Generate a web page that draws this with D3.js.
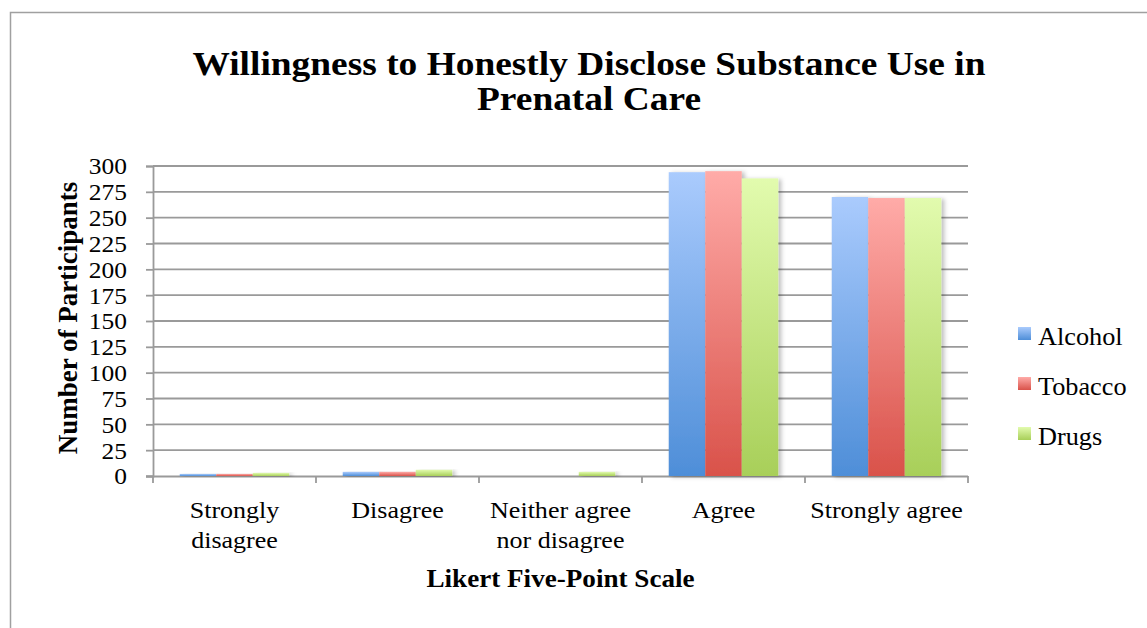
<!DOCTYPE html>
<html>
<head>
<meta charset="utf-8">
<script src="https://cdn.jsdelivr.net/npm/d3@7"></script>
<style>
  html, body { margin: 0; padding: 0; background: #fff; }
  svg { display: block; }
  text { font-family: "Liberation Serif", "Times New Roman", Times, serif; fill: #000; }
</style>
</head>
<body>
<svg id="chart" width="1147" height="628"></svg>
<script>
// ---- data ----
const categories = ["Strongly disagree", "Disagree", "Neither agree nor disagree", "Agree", "Strongly agree"];
const categoryLines = [["Strongly", "disagree"], ["Disagree"], ["Neither agree", "nor disagree"], ["Agree"], ["Strongly agree"]];
const seriesNames = ["Alcohol", "Tobacco", "Drugs"];
const alcohol = [2, 4, 0, 294, 270];
const tobacco = [2, 4, 0, 295, 269];
const drugs = [3, 6, 4, 288, 269];
const yTicks = [0, 25, 50, 75, 100, 125, 150, 175, 200, 225, 250, 275, 300];
const titleLines = ["Willingness to Honestly Disclose Substance Use in", "Prenatal Care"];
const xTitle = "Likert Five-Point Scale";
const yTitle = "Number of Participants";

const seriesValues = [alcohol, tobacco, drugs];
const colors = [
  { top: "#aacbfd", bottom: "#4e8ed8" },
  { top: "#ffaba8", bottom: "#d9524a" },
  { top: "#e2fbae", bottom: "#a8cf59" }
];
const SX = 1.085; // horizontal stretch of the reference's text

const svg = d3.select("#chart");
const defs = svg.append("defs");
colors.forEach((c, i) => {
  const g = defs.append("linearGradient").attr("id", "grad" + i)
    .attr("x1", 0).attr("y1", 0).attr("x2", 0).attr("y2", 1);
  g.append("stop").attr("offset", "0%").attr("stop-color", c.top);
  g.append("stop").attr("offset", "100%").attr("stop-color", c.bottom);
});
const f = defs.append("filter").attr("id", "shadow").attr("x", "-20%").attr("y", "-5%").attr("width", "140%").attr("height", "110%");
f.append("feDropShadow").attr("dx", 3).attr("dy", 1).attr("stdDeviation", 2)
  .attr("flood-color", "#000").attr("flood-opacity", 0.25);

// frame
svg.append("rect").attr("x", 10.5).attr("y", 12.5).attr("width", 1150).attr("height", 640)
  .attr("fill", "#fff").attr("stroke", "#a0a0a0").attr("stroke-width", 1.5);

const plot = { left: 153, right: 968, top: 166, bottom: 476 };

const x0 = d3.scaleBand().domain(categories).range([plot.left, plot.right])
  .paddingInner(0.328).paddingOuter(0.164);
const x1 = d3.scaleBand().domain(seriesNames).range([0, x0.bandwidth()]).padding(0);
const y = d3.scaleLinear().domain([0, 300]).range([plot.bottom, plot.top]);

// gridlines
svg.append("g").selectAll("line").data(yTicks.filter(d => d > 0)).join("line")
  .attr("x1", plot.left).attr("x2", plot.right)
  .attr("y1", d => y(d)).attr("y2", d => y(d))
  .attr("stroke", "#9a9a9a").attr("stroke-width", 1.8);

// y axis
const yAxis = svg.append("g").attr("transform", `translate(${plot.left},0)`)
  .call(d3.axisLeft(y).tickValues(yTicks).tickSize(7).tickPadding(19).tickFormat(d3.format("d")));
yAxis.attr("font-family", null).attr("font-size", null);
yAxis.select(".domain").attr("stroke", "#9a9a9a").attr("stroke-width", 1.8);
yAxis.selectAll(".tick line").attr("stroke", "#9a9a9a").attr("stroke-width", 1.8);
const tickSX = 1.06;
yAxis.selectAll(".tick text").attr("font-size", 24)
  .attr("dy", "0.33em")
  .attr("x", function () { return +d3.select(this).attr("x") / tickSX; })
  .attr("transform", `scale(${tickSX},1)`);

// x axis baseline and category ticks
const xAxis = svg.append("g").attr("transform", `translate(0,${plot.bottom})`)
  .call(d3.axisBottom(x0).tickSize(0).tickFormat(""));
xAxis.select(".domain").remove();
svg.append("line").attr("x1", plot.left - 7).attr("x2", plot.right)
  .attr("y1", plot.bottom + 0.5).attr("y2", plot.bottom + 0.5)
  .attr("stroke", "#9a9a9a").attr("stroke-width", 1.8);
const step = x0.step();
const boundaries = d3.range(categories.length + 1).map(i => plot.left + i * step);
svg.append("g").selectAll("line").data(boundaries).join("line")
  .attr("x1", d => d).attr("x2", d => d)
  .attr("y1", plot.bottom).attr("y2", plot.bottom + 7)
  .attr("stroke", "#9a9a9a").attr("stroke-width", 1.8);

// bars
const groups = svg.append("g").selectAll("g").data(categories).join("g")
  .attr("transform", d => `translate(${x0(d)},0)`);
groups.selectAll("rect")
  .data((d, ci) => seriesNames.map((s, si) => ({ s, si, v: seriesValues[si][ci] })))
  .join("rect")
  .attr("x", d => x1(d.s))
  .attr("width", x1.bandwidth())
  .attr("y", d => y(d.v))
  .attr("height", d => y(0) - y(d.v))
  .attr("fill", d => `url(#grad${d.si})`)
  .attr("filter", "url(#shadow)");

// category labels
categories.forEach((c, i) => {
  const cx = x0(c) + x0.bandwidth() / 2;
  const t = svg.append("text").attr("text-anchor", "middle").attr("font-size", 24)
    .attr("transform", `translate(${cx},518) scale(${SX},1)`);
  categoryLines[i].forEach((line, li) => {
    t.append("tspan").attr("x", 0).attr("y", li * 30).text(line);
  });
});

// axis titles
svg.append("text").attr("text-anchor", "middle").attr("font-size", 25).attr("font-weight", "bold")
  .attr("transform", `translate(${(plot.left + plot.right) / 2},587) scale(${SX},1)`).text(xTitle);
svg.append("text").attr("text-anchor", "middle").attr("font-size", 27).attr("font-weight", "bold")
  .attr("transform", `translate(77,318) rotate(-90)`).text(yTitle);

// chart title
const title = svg.append("text").attr("text-anchor", "middle").attr("font-size", 34).attr("font-weight", "bold")
  .attr("transform", `translate(589,0) scale(1.1,1)`);
titleLines.forEach((line, i) => {
  title.append("tspan").attr("x", 0).attr("y", 75 + i * 35).text(line);
});

// legend
const legend = svg.append("g");
seriesNames.forEach((s, i) => {
  const ly = 345 + i * 50;
  legend.append("rect").attr("x", 1018).attr("y", ly - 18).attr("width", 13).attr("height", 13)
    .attr("fill", `url(#grad${i})`);
  legend.append("text").attr("font-size", 25)
    .attr("transform", `translate(1038,${ly}) scale(1.05,1)`).text(s);
});
</script>
</body>
</html>
